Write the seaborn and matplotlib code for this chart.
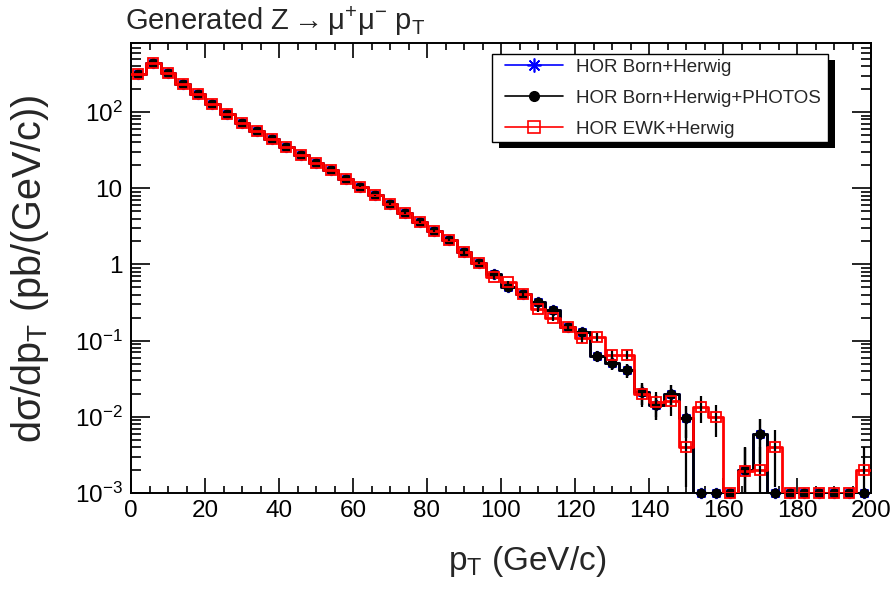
import numpy as np
import matplotlib
matplotlib.use("Agg")
import matplotlib.pyplot as plt
import seaborn as sns
from matplotlib.lines import Line2D
from matplotlib.patches import Rectangle
from matplotlib.ticker import FixedLocator, FixedFormatter, MultipleLocator, LogLocator, NullFormatter

# ---------------- data ----------------
bin_edges = np.arange(0, 204, 4)          # 50 bins of 4 GeV, 0..200
series_names = ["HOR Born+Herwig", "HOR Born+Herwig+PHOTOS", "HOR EWK+Herwig"]

born_herwig = [315, 440, 325, 233, 172, 127, 94, 72, 56, 44,
               35, 27.3, 21.4, 17.4, 13.2, 10.4, 8.1, 6.2, 4.73, 3.6,
               2.74, 2.07, 1.44, 1.05, 0.75, 0.51, 0.41, 0.32, 0.25, 0.15,
               0.131, 0.063, 0.051, 0.041, 0.021, 0.0143, 0.0199, 0.0096, 0, 0,
               0, 0.002, 0.0059, 0, 0, 0, 0, 0, 0, 0]
born_herwig_err = [0.79, 0.94, 0.81, 0.68, 0.59, 0.50, 0.43, 0.38, 0.33, 0.30,
                   0.26, 0.23, 0.21, 0.19, 0.16, 0.14, 0.13, 0.11, 0.097, 0.085,
                   0.074, 0.064, 0.054, 0.046, 0.039, 0.032, 0.029, 0.025, 0.022, 0.017,
                   0.016, 0.011, 0.010, 0.009, 0.0065, 0.0053, 0.0063, 0.0044, 0, 0,
                   0, 0.002, 0.0034, 0, 0, 0, 0, 0, 0, 0]

photos = [315, 440, 325, 233, 172, 127, 94, 72, 56, 44,
          35, 27.3, 21.4, 17.4, 13.2, 10.4, 8.1, 6.2, 4.73, 3.6,
          2.74, 2.07, 1.44, 1.05, 0.75, 0.51, 0.41, 0.32, 0.25, 0.15,
          0.131, 0.063, 0.051, 0.041, 0.021, 0.0143, 0.0199, 0.0096, 0, 0,
          0, 0.002, 0.0059, 0, 0, 0, 0, 0, 0, 0]
photos_err = [0.79, 0.94, 0.81, 0.68, 0.59, 0.50, 0.43, 0.38, 0.33, 0.30,
              0.26, 0.23, 0.21, 0.19, 0.16, 0.14, 0.13, 0.11, 0.097, 0.085,
              0.074, 0.064, 0.054, 0.046, 0.039, 0.032, 0.029, 0.025, 0.022, 0.017,
              0.016, 0.011, 0.010, 0.009, 0.0065, 0.0053, 0.0063, 0.0044, 0, 0,
              0, 0.002, 0.0034, 0, 0, 0, 0, 0, 0, 0]

ewk = [315, 440, 325, 233, 172, 127, 94, 72, 56, 44,
       35, 27.3, 21.4, 17.4, 13.2, 10.4, 8.1, 6.2, 4.73, 3.6,
       2.74, 2.07, 1.44, 1.05, 0.69, 0.58, 0.41, 0.26, 0.20, 0.15,
       0.107, 0.110, 0.065, 0.065, 0.0199, 0.0156, 0.016, 0.004, 0.0134, 0.0100,
       0, 0.00195, 0.002, 0.004, 0, 0, 0, 0, 0, 0.002]
ewk_err = [0.79, 0.94, 0.81, 0.68, 0.59, 0.50, 0.43, 0.38, 0.33, 0.30,
           0.26, 0.23, 0.21, 0.19, 0.16, 0.14, 0.13, 0.11, 0.097, 0.085,
           0.074, 0.064, 0.054, 0.046, 0.037, 0.034, 0.029, 0.023, 0.020, 0.017,
           0.015, 0.015, 0.011, 0.011, 0.0063, 0.0056, 0.0057, 0.0028, 0.0052, 0.0045,
           0, 0.002, 0.002, 0.0028, 0, 0, 0, 0, 0, 0.002]

x_ticks = [0, 20, 40, 60, 80, 100, 120, 140, 160, 180, 200]
y_ticks = [1e-3, 1e-2, 1e-1, 1, 10, 100]
y_tick_labels = ["$10^{-3}$", "$10^{-2}$", "$10^{-1}$", "1", "10", "$10^{2}$"]

title = "Generated Z$\\rightarrow$\u03bc$^{+}$\u03bc$^{-}$ p$_{\\mathrm{T}}$"
x_title = "p$_{\\mathrm{T}}$ (GeV/c)"
y_title = "d\u03c3/dp$_{\\mathrm{T}}$ (pb/(GeV/c))"

# ---------------- style ----------------
sns.set_style("ticks")
plt.rcParams["font.family"] = ["Liberation Sans", "DejaVu Sans"]
plt.rcParams["mathtext.fontset"] = "custom"
plt.rcParams["mathtext.rm"] = "Liberation Sans"
plt.rcParams["mathtext.it"] = "Liberation Sans:italic"
plt.rcParams["mathtext.bf"] = "Liberation Sans:bold"
plt.rcParams["mathtext.sf"] = "Liberation Sans"

ymin, ymax = 1e-3, 805.0
centers = (bin_edges[:-1] + bin_edges[1:]) / 2.0
W, H = 894.0, 590.0

fig = plt.figure(figsize=(8.94, 5.90), dpi=100)
ax = fig.add_axes([131 / W, 1 - 493 / H, 740 / W, 450 / H])
ax.set_yscale("log")

styles = [
    (born_herwig, born_herwig_err, "#0000ff", (8, 2, 0), 8, "#0000ff", 2.0),
    (photos, photos_err, "black", "o", 6, "black", 3.0),
    (ewk, ewk_err, "#ff0000", "s", 7, "none", 4.0),
]

for vals, errs, color, marker, ms, mfc, z in styles:
    v = np.asarray(vals, float)
    e = np.asarray(errs, float)
    vplot = np.where(v > 0, v, ymin)
    step_y = np.append(vplot, vplot[-1])
    sns.lineplot(x=bin_edges, y=step_y, ax=ax, color=color, lw=2.0,
                 drawstyle="steps-post", estimator=None, sort=False,
                 legend=False, zorder=z)
    nz = (v > 0) & (e > 0)
    lower = np.where(v - e > 0, e, v - 1e-6)
    ax.errorbar(centers[nz], v[nz], yerr=[lower[nz], e[nz]], fmt="none",
                ecolor="black", elinewidth=1.6, capsize=0, zorder=z + 0.2)
    ax.plot(centers, vplot, ls="none", marker=marker, ms=ms, mfc=mfc,
            mec=color, mew=1.3, clip_on=False, zorder=z + 0.5)

ax.set_xlim(0, 200)
ax.set_ylim(ymin, ymax)
ax.xaxis.set_major_locator(FixedLocator(x_ticks))
ax.xaxis.set_minor_locator(MultipleLocator(5))
ax.yaxis.set_major_locator(FixedLocator(y_ticks))
ax.yaxis.set_major_formatter(FixedFormatter(y_tick_labels))
ax.yaxis.set_minor_locator(LogLocator(base=10, subs=range(2, 10), numticks=30))
ax.yaxis.set_minor_formatter(NullFormatter())
ax.set_xlabel("")
ax.set_ylabel("")

for s in ax.spines.values():
    s.set_linewidth(1.4)
    s.set_color("black")
ax.tick_params(which="both", direction="in", top=True, right=True,
               colors="black", width=1.2, labelsize=17.5)
ax.tick_params(axis="x", which="major", length=11, pad=5)
ax.tick_params(axis="x", which="minor", length=5)
ax.tick_params(axis="y", which="major", length=14, pad=6)
ax.tick_params(axis="y", which="minor", length=7)

fig.text(125 / W, 1 - 30 / H, title, fontsize=21, ha="left", va="baseline")
fig.text(527 / W, 1 - 570 / H, x_title, fontsize=24, ha="center", va="baseline")
fig.text(30 / W, 1 - 269 / H, y_title, fontsize=28.5, rotation=90,
         ha="center", va="center")

# legend frame + shadow (ROOT style), fixed in figure pixels
box_x0, box_y0, box_x1, box_y1 = 492, 54, 828, 142
fig.patches.append(Rectangle(((box_x0 + 7) / W, 1 - (box_y1 + 6) / H),
                             (box_x1 - box_x0) / W, (box_y1 - box_y0) / H,
                             transform=fig.transFigure, facecolor="black",
                             edgecolor="none", zorder=20))
fig.patches.append(Rectangle((box_x0 / W, 1 - box_y1 / H),
                             (box_x1 - box_x0) / W, (box_y1 - box_y0) / H,
                             transform=fig.transFigure, facecolor="white",
                             edgecolor="black", lw=1.0, zorder=21))

handles = [
    Line2D([], [], color="#0000ff", lw=1.2, marker=(8, 2, 0), ms=10, mec="#0000ff", mew=1.2),
    Line2D([], [], color="black", lw=1.2, marker="o", ms=7, mfc="black", mec="black"),
    Line2D([], [], color="#ff0000", lw=1.2, marker="s", ms=8, mfc="none", mec="#ff0000", mew=1.2),
]
leg = fig.legend(handles, series_names, loc="upper left",
                 bbox_to_anchor=(505 / W, 1 - 58.5 / H),
                 bbox_transform=fig.transFigure, borderaxespad=0, borderpad=0,
                 fontsize=13.5, frameon=False, handlelength=3.1,
                 handletextpad=0.68, labelspacing=0.75)
leg.set_zorder(22)

fig.savefig("out.png", dpi=100, facecolor="white")
